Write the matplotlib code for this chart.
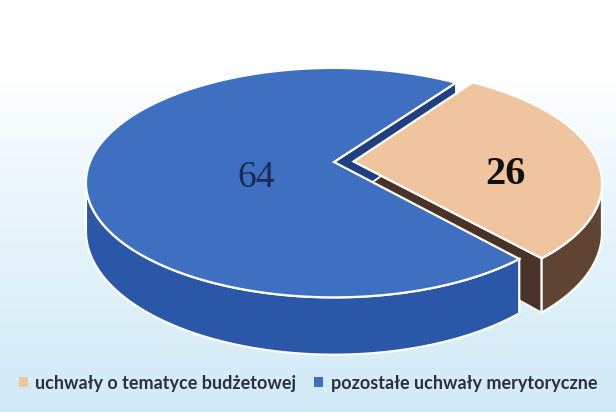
import numpy as np
import matplotlib
matplotlib.use("Agg")
from matplotlib import pyplot as plt
from matplotlib.patches import Polygon, Patch

# data
labels = ["uchwały o tematyce budżetowej", "pozostałe uchwały merytoryczne"]
values = [26, 64]

top_colors = ["#f1c4a0", "#3f6fc0"]
side_colors = ["#5f4434", "#2b57a8"]
wall_colors = ["#4a3226", "#1f3f80"]
text_colors = ["#111111", "#1b2b52"]
text_weights = ["bold", "normal"]
text_sizes = [29, 27]
# label placement inside each slice: (radius fraction, angle in degrees)
label_pos = [(0.62, -11.0), (0.34, -156.0)]
explode = [0.08, 0.0]

# layout of the fake 3D pie (pixels)
W, H = 616, 412
cx, cy = 334, 162
rx, ry = 244, 111
depth = 47
persp = 0.18
start = 55.0

def proj(theta, r, z, off):
    t = np.radians(theta)
    X = r * np.cos(t) + off[0]
    Yf = -(r * np.sin(t) + off[1])
    w = 1.0 / (1.0 - persp * Yf)
    return cx + rx * X * w, cy + (ry * Yf + depth * z) * w

def arc(a0, a1, z, off, n=120):
    th = np.linspace(a0, a1, n)
    xs, ys = proj(th, 1.0, z, off)
    return list(zip(xs, ys))

fig = plt.figure(figsize=(W / 100, H / 100), dpi=100)
ax = fig.add_axes([0, 0, 1, 1])
ax.set_xlim(0, W)
ax.set_ylim(H, 0)
ax.axis("off")

# background: white fading to pale blue
grad = np.linspace(0, 1, 256)[:, None]
grad = np.clip((grad - 0.2) / 0.8, 0, 1) ** 0.8
c_top = np.array([1.0, 1.0, 1.0])
c_bot = np.array([0.82, 0.92, 0.97])
bg = c_top + (c_bot - c_top) * grad[..., None]
ax.imshow(np.repeat(bg, 4, axis=1), extent=(0, W, H, 0), aspect="auto", zorder=0)

total = float(sum(values))
spans = [v / total * 360.0 for v in values]
# orange goes clockwise from the start angle, blue takes the rest
a_start = [start, start - spans[0]]
a_end = [start - spans[0], start - 360.0]
offs = []
for i in range(2):
    mid = np.radians((a_start[i] + a_end[i]) / 2)
    offs.append((explode[i] * np.cos(mid), explode[i] * np.sin(mid)))

# front part of the rim that is visible
vis_lo, vis_hi = -180 + np.degrees(np.arcsin(persp)), -np.degrees(np.arcsin(persp))

def radial_wall(i, ang, z):
    off = offs[i]
    pts = [proj(ang, 0.0, 0, off), proj(ang, 1.0, 0, off),
           proj(ang, 1.0, 1, off), proj(ang, 0.0, 1, off)]
    ax.add_patch(Polygon(pts, closed=True, fc=wall_colors[i], ec="white", lw=1.3, zorder=z))

def side(i, lo, hi, z):
    lo, hi = max(lo, vis_lo), min(hi, vis_hi)
    if hi <= lo:
        return
    pts = arc(lo, hi, 0, offs[i]) + arc(hi, lo, 1, offs[i])
    ax.add_patch(Polygon(pts, closed=True, fc=side_colors[i], ec="white", lw=1.6, zorder=z))

def top(i, z):
    pts = [proj(0, 0.0, 0, offs[i])] + arc(a_start[i], a_end[i], 0, offs[i], 300)
    ax.add_patch(Polygon(pts, closed=True, fc=top_colors[i], ec="white", lw=1.6, zorder=z))

# painter's order
radial_wall(0, a_end[0], 2)
side(1, vis_lo, a_end[0], 3)
radial_wall(1, a_start[0], 4)
top(1, 5)
side(0, a_end[0], a_start[0], 6)
top(0, 7)

for i in range(2):
    r, ang = label_pos[i]
    tx, ty = proj(ang, r, 0, offs[i])
    ax.text(tx, ty, str(values[i]), ha="center", va="center", fontsize=text_sizes[i],
            fontweight=text_weights[i], color=text_colors[i],
            family="Liberation Serif", zorder=10)

handles = [Patch(fc=top_colors[0], ec="none"), Patch(fc=top_colors[1], ec="none")]
leg = fig.legend(handles, labels, loc="center", ncol=2, frameon=False,
                 bbox_to_anchor=(0.5, 1 - 383 / H), handlelength=0.5, handleheight=0.5,
                 handletextpad=0.4, columnspacing=1.0,
                 prop={"family": "Lato", "weight": "bold", "size": 13})
for t in leg.get_texts():
    t.set_color("#2a3040")

fig.savefig("out.png", dpi=100)
